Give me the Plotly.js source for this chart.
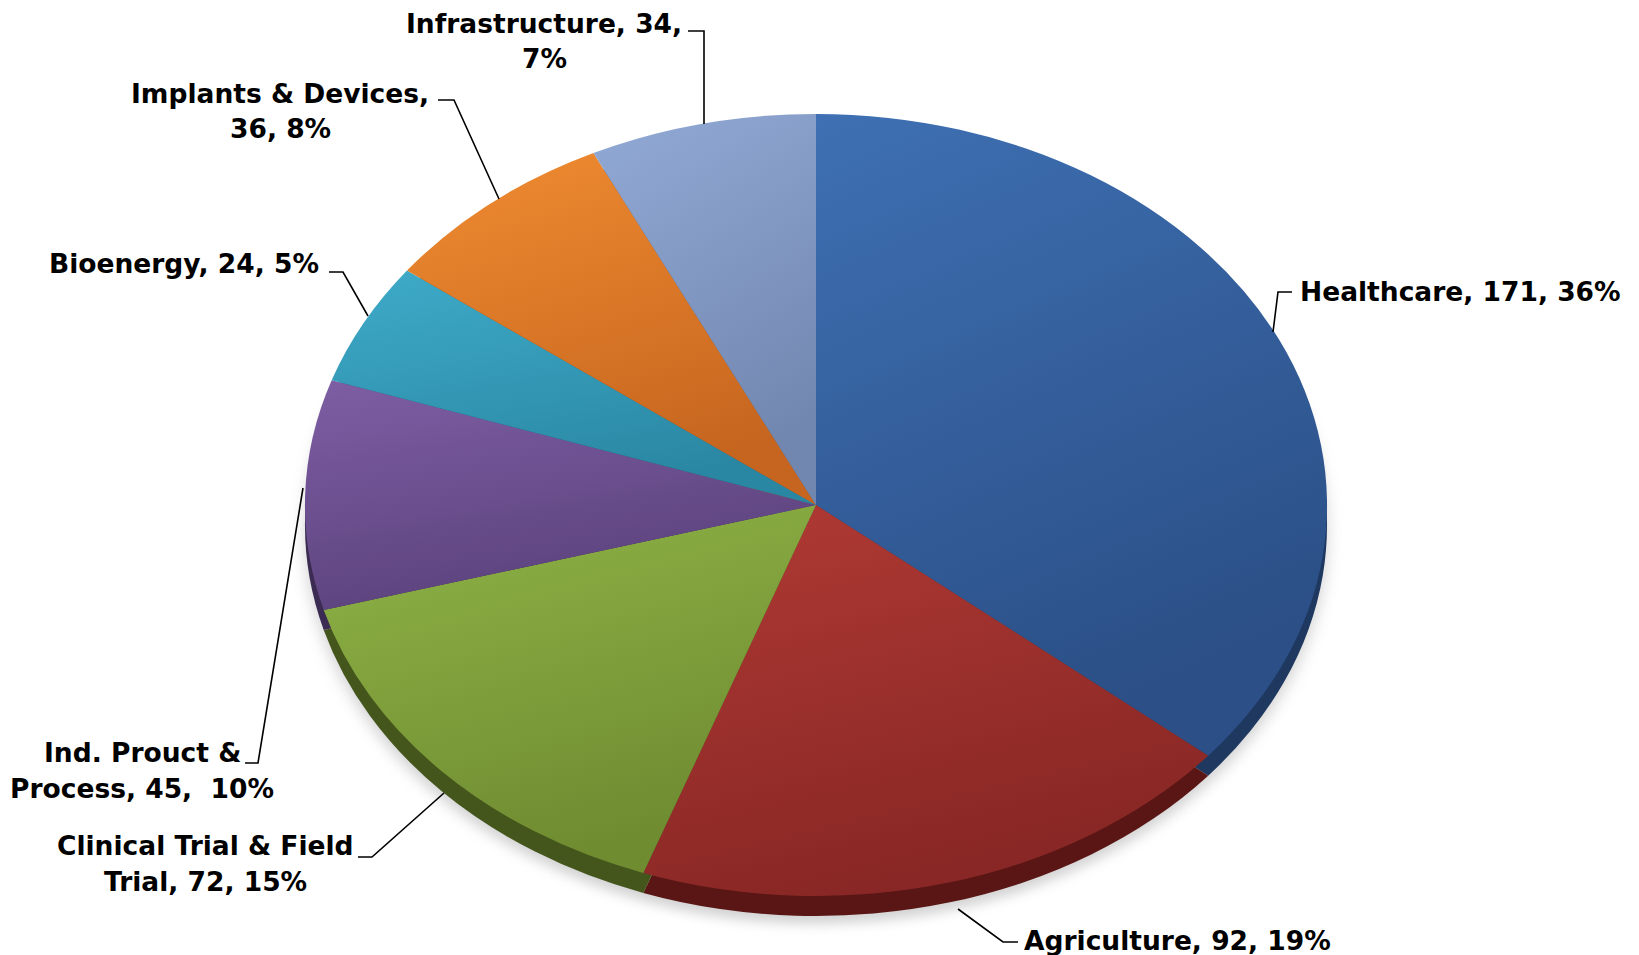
<!DOCTYPE html>
<html>
<head>
<meta charset="utf-8">
<script src="https://cdn.plot.ly/plotly-3.0.1.min.js"></script>
<style>
  html, body { margin: 0; padding: 0; background: #ffffff; }
  #chart { width: 1639px; height: 955px; }
</style>
</head>
<body>
<div id="chart"></div>
<script>
// ---- data ----
const categories = ['Healthcare', 'Agriculture', 'Clinical Trial & Field Trial', 'Ind. Prouct & Process', 'Bioenergy', 'Implants & Devices', 'Infrastructure'];
const counts = [171, 92, 72, 45, 24, 36, 34];
const labelLines = [
  ['Healthcare, 171, 36%'],
  ['Agriculture, 92, 19%'],
  ['Clinical Trial & Field', 'Trial, 72, 15%'],
  ['Ind. Prouct &', 'Process, 45,  10%'],
  ['Bioenergy, 24, 5%'],
  ['Implants & Devices,', '36, 8%'],
  ['Infrastructure, 34,', '7%']
];
const baseColors = ['#35609e', '#9c302c', '#80a03c', '#6c4f90', '#3398b6', '#dd7826', '#8399c4'];
const lightColors = ['#3e70b3', '#b13a34', '#90b447', '#7e5ea4', '#3eabc9', '#f08c31', '#91aad5'];
const darkColors = ['#2b4f86', '#882725', '#6f8c31', '#5b427c', '#2a87a3', '#c6651f', '#7287b0'];
const rimColors = ['#1e3860', '#5a1614', '#44561c', '#3b2b52', '#1b5b6e', '#8a4312', '#4e5f80'];

// ---- geometry (pixels) ----
const W = 1639, H = 955;
const CX = 816, CY = 505, R = 391, SX = 1.307;
const RIM = 20, SHADOW = 28;

function pieDomain(dy) {
  return {
    x: [(CX - R) / W, (CX + R) / W],
    y: [(H - (CY + dy) - R) / H, (H - (CY + dy) + R) / H]
  };
}
function common(colors, dy) {
  return {
    type: 'pie',
    labels: categories,
    values: counts,
    sort: false,
    direction: 'clockwise',
    rotation: 0,
    textinfo: 'none',
    hoverinfo: 'none',
    showlegend: false,
    domain: pieDomain(dy),
    marker: { colors: colors, line: { width: 0 } }
  };
}

const data = [
  common(categories.map(() => '#b5b5b5'), SHADOW),
  common(rimColors, RIM),
  common(baseColors, 0)
];

// label placement (pixels): [x, first line y, xanchor]
const labelPos = [
  [1298, 292, 'left'],
  [1022, 940, 'left'],
  [205, 845, 'center'],
  [142, 752, 'center'],
  [321, 264, 'right'],
  [280, 93, 'center'],
  [544, 23, 'center']
];
const LINE_GAP = 36;
const leaders = [
  [[1292, 292], [1278, 292], [1273, 332]],
  [[1018, 942], [1003, 942], [958, 909]],
  [[358, 857], [372, 857], [444, 793]],
  [[245, 763], [258, 763], [303, 488]],
  [[329, 272], [343, 272], [368, 316]],
  [[438, 100], [454, 100], [499, 199]],
  [[688, 31], [704, 31], [704, 124]]
];

const px = x => x / W;
const py = y => 1 - y / H;

const annotations = [];
labelLines.forEach((lines, i) => {
  const [x, y0, anchor] = labelPos[i];
  lines.forEach((t, j) => {
    annotations.push({
      xref: 'paper', yref: 'paper',
      x: px(x), y: py(y0 + j * LINE_GAP),
      xanchor: anchor, yanchor: 'middle',
      text: t, showarrow: false,
      font: { family: 'DejaVu Sans', size: 26.5, color: '#000000', weight: 'bold' }
    });
  });
});

const shapes = leaders.map(pts => ({
  type: 'path',
  xref: 'paper', yref: 'paper',
  path: pts.map((p, k) => (k ? 'L ' : 'M ') + px(p[0]) + ',' + py(p[1])).join(' '),
  line: { color: '#000000', width: 1.6 }
}));

const layout = {
  width: W, height: H,
  margin: { l: 0, r: 0, t: 0, b: 0 },
  paper_bgcolor: '#ffffff',
  plot_bgcolor: '#ffffff',
  showlegend: false,
  annotations: annotations,
  shapes: shapes
};

Plotly.newPlot('chart', data, layout, { staticPlot: true, displayModeBar: false }).then(gd => {
  const ns = 'http://www.w3.org/2000/svg';
  const svg = gd.querySelector('.main-svg');
  let defs = svg.querySelector('defs');
  if (!defs) { defs = document.createElementNS(ns, 'defs'); svg.insertBefore(defs, svg.firstChild); }
  lightColors.forEach((c, i) => {
    const g = document.createElementNS(ns, 'linearGradient');
    g.setAttribute('id', 'sliceGrad' + i);
    g.setAttribute('x1', '0'); g.setAttribute('y1', '0');
    g.setAttribute('x2', '0.35'); g.setAttribute('y2', '1');
    const s1 = document.createElementNS(ns, 'stop');
    s1.setAttribute('offset', '0'); s1.setAttribute('stop-color', c);
    const s2 = document.createElementNS(ns, 'stop');
    s2.setAttribute('offset', '1'); s2.setAttribute('stop-color', darkColors[i]);
    g.appendChild(s1); g.appendChild(s2);
    defs.appendChild(g);
  });
  const pl = svg.querySelector('.pielayer');
  pl.setAttribute('transform', 'matrix(' + SX + ',0,0,1,' + (CX * (1 - SX)) + ',0)');
  const traces = pl.querySelectorAll('g.trace');
  if (traces[0]) traces[0].style.filter = 'blur(6px)';
  if (traces[0]) traces[0].style.opacity = '0.6';
  if (traces[2]) {
    traces[2].querySelectorAll('path.surface').forEach((p, i) => {
      p.style.fill = 'url(#sliceGrad' + i + ')';
    });
  }
});
</script>
</body>
</html>
